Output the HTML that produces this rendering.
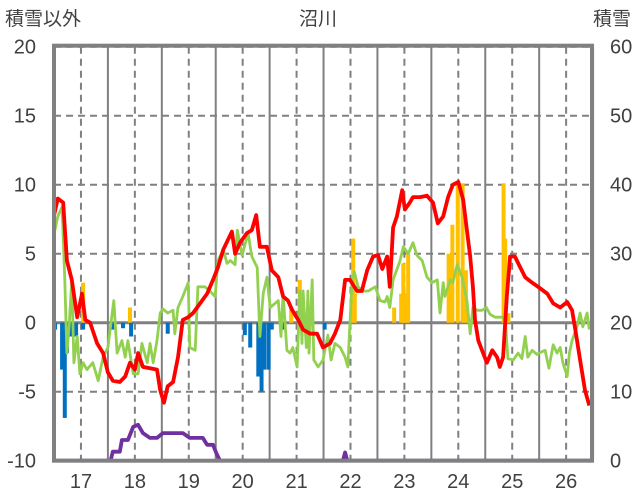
<!DOCTYPE html>
<html><head><meta charset="utf-8">
<style>
html,body{margin:0;padding:0;background:#fff;}
svg{display:block;font-family:"Liberation Sans","Noto Sans CJK JP",sans-serif;}
</style></head>
<body>
<svg id="chart" width="636" height="501" viewBox="0 0 636 501" xmlns="http://www.w3.org/2000/svg">
<defs><clipPath id="plotClip"><rect x="54" y="45" width="538" height="416"/></clipPath></defs>
<text x="5" y="25" font-size="19" fill="#404040">積雪以外</text>
<text x="318" y="25" font-size="19" fill="#404040" text-anchor="middle">沼川</text>
<text x="631" y="25" font-size="19" fill="#404040" text-anchor="end">積雪</text>
<g id="grid"></g>
<g id="bars" clip-path="url(#plotClip)"></g>
<g id="lines" clip-path="url(#plotClip)"></g>
<g id="axes"></g>
</svg>
<script>
const redT=[16.48,16.57,16.67,16.74,16.83,16.93,17.02,17.08,17.17,17.30,17.41,17.50,17.59,17.72,17.82,17.91,18.00,18.06,18.15,18.28,18.41,18.47,18.54,18.61,18.71,18.80,18.89,18.99,19.08,19.21,19.34,19.45,19.54,19.64,19.80,19.86,19.95,20.08,20.17,20.25,20.32,20.45,20.54,20.66,20.75,20.84,20.92,21.03,21.12,21.25,21.38,21.49,21.62,21.71,21.81,21.90,21.99,22.12,22.21,22.31,22.42,22.51,22.59,22.68,22.73,22.79,22.86,22.96,23.01,23.10,23.16,23.29,23.42,23.53,23.62,23.72,23.81,23.90,24.00,24.09,24.16,24.22,24.27,24.31,24.37,24.46,24.53,24.63,24.72,24.77,24.83,24.90,24.96,25.05,25.15,25.24,25.37,25.48,25.65,25.76,25.89,26.02,26.11,26.17,26.26,26.35,26.43];
const redV=[7.4,9.0,8.7,4.5,3.1,0.4,2.1,0.2,0,-1.5,-2.2,-3.6,-4.2,-4.3,-3.9,-2.9,-3.4,-2.2,-3.2,-3.3,-3.4,-4.9,-5.8,-4.6,-4.3,-2.5,0.2,0.4,0.7,1.4,2.1,3.1,4.0,5.3,6.6,5.0,5.8,6.5,6.7,7.8,5.5,5.5,3.8,3.3,1.9,1.6,0.9,0.2,-0.5,-0.8,-0.8,-1.8,-1.5,-0.8,0.2,3.1,3.1,2.3,2.3,3.8,4.8,4.9,3.9,4.8,2.6,6.9,7.7,9.6,8.2,8.7,9.1,9.1,9.2,8.7,7.2,7.7,9.1,10.0,10.2,8.9,6.7,4.8,2.6,0.2,-1.3,-2.2,-2.9,-2.0,-2.5,-3.2,-2.5,1.9,4.8,4.8,4.0,3.3,2.9,2.6,2.1,1.4,1.1,1.5,0.9,-0.5,-2.7,-4.9,-6.0];
const greenT=[16.48,16.57,16.65,16.70,16.74,16.78,16.83,16.87,16.93,16.98,17.04,17.11,17.22,17.32,17.41,17.50,17.61,17.67,17.76,17.82,17.87,17.97,18.06,18.13,18.23,18.28,18.34,18.41,18.47,18.52,18.61,18.71,18.74,18.80,18.89,18.99,19.02,19.12,19.17,19.30,19.39,19.49,19.54,19.64,19.71,19.77,19.86,19.90,19.99,20.10,20.17,20.27,20.32,20.38,20.45,20.51,20.60,20.66,20.71,20.75,20.82,20.88,20.93,21.01,21.06,21.10,21.12,21.18,21.21,21.23,21.29,21.32,21.40,21.49,21.58,21.64,21.71,21.81,21.90,21.95,22.03,22.07,22.14,22.23,22.33,22.46,22.55,22.64,22.68,22.73,22.79,22.92,22.98,23.07,23.16,23.23,23.33,23.42,23.51,23.61,23.66,23.72,23.75,23.85,23.90,23.98,24.07,24.16,24.22,24.27,24.35,24.44,24.52,24.59,24.68,24.77,24.87,24.92,25.02,25.11,25.18,25.24,25.29,25.37,25.46,25.55,25.61,25.68,25.76,25.83,25.89,25.94,26.02,26.06,26.11,26.20,26.26,26.31,26.39,26.43];
const greenV=[6.0,7.7,8.4,3.1,-2.2,-0.3,3.1,-2.9,-1.0,-3.7,-2.9,-3.4,-2.9,-4.2,-2.5,-1.8,1.6,-2.2,-1.3,-2.5,-1.3,-3.7,-3.7,-1.5,-2.9,-1.5,-2.9,-1.3,0.7,1.0,0.7,0.9,-0.8,1.1,1.9,2.9,-1.8,-2.0,2.6,2.6,2.3,1.9,4.5,5.3,4.3,4.5,4.2,6.7,4.9,6.5,4.8,4.0,-1.0,2.1,3.3,1.1,1.4,1.6,-1.0,2.1,-2.0,-2.2,-1.8,-3.2,2.3,-1.5,2.3,-1.8,2.3,-2.2,3.1,-2.7,-3.2,-2.7,-0.9,-2.7,-1.5,-1.8,-2.5,-3.2,3.1,3.7,2.6,2.3,2.3,2.6,1.6,1.5,1.9,1.1,3.1,4.5,5.5,5.0,5.8,4.9,4.5,3.3,2.9,3.1,0.7,2.9,1.9,3.1,2.9,4.2,3.3,1.6,-0.8,1.1,0.9,0.9,1.1,0.6,0.4,0.4,0.4,-2.6,-2.7,-2.2,-2.6,-1.0,-2.5,-2.0,-2.3,-2.1,-2.0,-3.3,-1.6,-2.2,-1.8,-2.9,-3.9,-2.2,-1.3,-0.3,0.7,-0.3,0.7,-0.5];
const barT=[16.52,16.65,16.70,16.74,16.80,16.91,17.04,17.04,17.59,17.78,17.91,17.93,18.61,20.04,20.14,20.29,20.35,20.40,20.48,20.54,20.77,20.90,21.06,21.52,22.05,22.08,22.81,22.94,22.98,23.01,23.07,23.82,23.89,23.99,24.08,24.14,24.84,24.87,24.93];
const barV=[-0.5,-3.4,-6.9,-2.2,-1.0,-1.0,-0.5,2.9,-0.5,-0.4,1.1,-1.0,-0.8,-0.9,-1.8,-3.9,-5.0,-3.4,-3.4,-0.5,-0.5,1.1,3.1,-0.5,6.1,2.1,1.1,2.1,4.3,2.1,5.0,5.0,7.1,10.1,10.1,3.8,10.1,6.1,0.7];
const snowT=[16.5,17.55,17.59,17.72,17.76,17.87,17.97,18.06,18.15,18.28,18.41,18.52,18.61,18.89,19.02,19.26,19.34,19.45,19.51,19.58,21.86,21.90,21.94,26.48];
const snowV=[0,0,1.3,1.3,3.0,3.0,4.9,5.2,4.0,3.3,3.3,4.0,4.0,4.0,3.3,3.3,2.3,2.3,1.1,0,0,1.2,0,0];
const leftTicks=[20,15,10,5,0,-5,-10];
const rightTicks=[60,50,40,30,20,10,0];
const yearLabels=[17,18,19,20,21,22,23,24,25,26];

const NS="http://www.w3.org/2000/svg";
const X0=54,X1=592,Y0=46.7,Y1=460.7;
function xs(t){return X0+(t-16.5)*(X1-X0)/9.98;}
function yl(v){return Y1-(v+10)*(Y1-Y0)/30;}
function yr(v){return Y1-v*(Y1-Y0)/60;}
function mk(tag,attrs,parent){const e=document.createElementNS(NS,tag);for(const k in attrs)e.setAttribute(k,attrs[k]);parent.appendChild(e);return e;}
const grid=document.getElementById('grid'),bars=document.getElementById('bars'),lines=document.getElementById('lines'),axes=document.getElementById('axes');

leftTicks.forEach(v=>{
  const g=mk('line',{x1:X0,x2:X1,y1:yl(v),y2:yl(v),stroke:'#808080','stroke-width':v===0?3:2,'stroke-dasharray':v===0?'none':'7,5'},grid);
  
  
  const t=mk('text',{x:36,y:yl(v)+7,'font-size':20,fill:'#404040','text-anchor':'end'},axes);
  t.textContent=v;
  
  
});
rightTicks.forEach(v=>{
  const t=mk('text',{x:610,y:yr(v)+7,'font-size':20,fill:'#404040'},axes);
  t.textContent=v;
  
  
});
yearLabels.forEach(y=>{
  const d=mk('line',{x1:xs(y),x2:xs(y),y1:Y0,y2:Y1,stroke:'#808080','stroke-width':2,'stroke-dasharray':'7,5'},grid);
  
  
  const s=mk('line',{x1:xs(y+0.5),x2:xs(y+0.5),y1:Y0,y2:Y1,stroke:'#808080','stroke-width':2},grid);
  
  
  const t=mk('text',{x:xs(y),y:488,'font-size':20,fill:'#404040','text-anchor':'middle'},axes);
  t.textContent=y;
  
  
});
barT.forEach((t,i)=>{
  const v=barV[i],y0=yl(0),y=yl(v);
  const r=mk('rect',{x:xs(t)-2,width:4,y:Math.min(y,y0),height:Math.abs(y-y0),fill:v<0?'#0070c0':'#ffc000'},bars);
  
  
});
function path(T,V,fy,color,w,name){
  const d=T.map((t,i)=>(i?'L':'M')+xs(t).toFixed(1)+','+fy(V[i]).toFixed(1)).join('');
  const p=mk('path',{d:d,fill:'none',stroke:color,'stroke-width':w,'stroke-linejoin':'round'},lines);
  
  
}
path(greenT,greenV,yl,'#92d050',2.8,'green-series-line');
path(redT,redV,yl,'#ff0000',3.8,'red-series-line');
path(snowT,snowV,yr,'#7030a0',3.8,'snow-depth-line');
const f=mk('rect',{x:X0,y:Y0-1,width:X1-X0,height:Y1-Y0+1,fill:'none',stroke:'#808080','stroke-width':4},axes);


</script>
</body></html>
